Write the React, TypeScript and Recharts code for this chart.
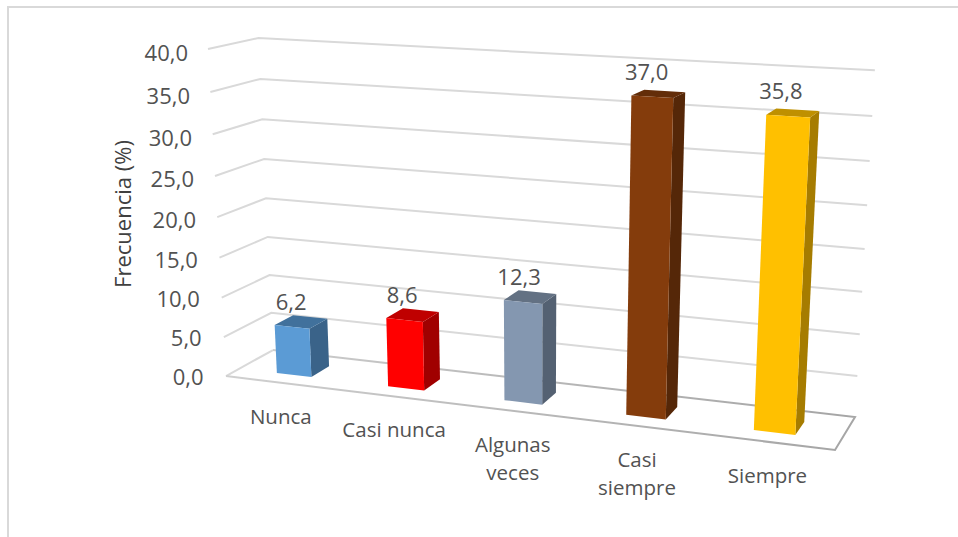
import { BarChart, Bar, XAxis, YAxis, CartesianGrid, LabelList, Label } from "recharts";

const CATEGORIES = ["Nunca", "Casi nunca", "Algunas\nveces", "Casi\nsiempre", "Siempre"];
const VALUES = [6.2, 8.6, 12.3, 37.0, 35.8];
const Y_TICKS = [0, 5, 10, 15, 20, 25, 30, 35, 40];

const FRONT_COLORS = ["#5b9bd5", "#ff0000", "#8497b0", "#843c0c", "#ffc000"];
const SIDE_COLORS = ["#3a6389", "#a00000", "#546172", "#552708", "#a67c00"];
const TOP_COLORS = ["#41719c", "#bf0000", "#637183", "#632d09", "#bf9000"];

const WIDTH = 958;
const HEIGHT = 537;
// the axes need a size of at least 1px or recharts skips them
const AXIS_SIZE = 1;
const PLOT_W = WIDTH - AXIS_SIZE;
const PLOT_H = HEIGHT - AXIS_SIZE;
const TEXT = "#525252";
const FONT = "'Open Sans', sans-serif";

const chartData = CATEGORIES.map((name, i) => ({ name, value: VALUES[i] }));

// homogeneous corners of the 3D box: origin, +category, +value, +depth
const H_O = [226, 376, 1];
const H_U = [743, 400.4, 0.8898];
const H_V = [196.56, 46.3, 0.945];
const H_D = [286.7, 367.57, 1.0502];

// u: along the categories, v: up the value axis, d: into the box (all 0..1)
function project(u: number, v: number, d: number) {
  const h = [0, 1, 2].map(
    (i) => H_O[i] + u * (H_U[i] - H_O[i]) + v * (H_V[i] - H_O[i]) + d * (H_D[i] - H_O[i])
  );
  return { x: h[0] / h[2], y: h[1] / h[2] };
}

const toU = (x: number) => (x - AXIS_SIZE) / PLOT_W;
const toV = (y: number) => (PLOT_H - y) / PLOT_H;
const pts = (list: { x: number; y: number }[]) => list.map((p) => `${p.x},${p.y}`).join(" ");
const decimal = (n: unknown) => Number(n).toFixed(1).replace(".", ",");

const BAR_FRONT = 0.28;
const BAR_BACK = 0.68;

function Bar3D(props: any) {
  const { x, y, width, height, index } = props;
  const u0 = toU(x);
  const u1 = toU(x + width);
  const v0 = toV(y + height);
  const v1 = toV(y);
  const front = [project(u0, v0, BAR_FRONT), project(u1, v0, BAR_FRONT), project(u1, v1, BAR_FRONT), project(u0, v1, BAR_FRONT)];
  const side = [project(u1, v0, BAR_FRONT), project(u1, v0, BAR_BACK), project(u1, v1, BAR_BACK), project(u1, v1, BAR_FRONT)];
  const top = [project(u0, v1, BAR_FRONT), project(u1, v1, BAR_FRONT), project(u1, v1, BAR_BACK), project(u0, v1, BAR_BACK)];
  return (
    <g>
      <polygon points={pts(side)} fill={SIDE_COLORS[index]} />
      <polygon points={pts(top)} fill={TOP_COLORS[index]} />
      <polygon points={pts(front)} fill={FRONT_COLORS[index]} />
    </g>
  );
}

function GridLine3D(props: any) {
  const v = toV(props.y1);
  if (v < 0.001) {
    // floor of the box, its long edges darken towards the right
    return (
      <g>
        <defs>
          <linearGradient id="floorEdge" gradientUnits="userSpaceOnUse" x1={226} y1={0} x2={835} y2={0}>
            <stop offset="0" stopColor="#d0d0d0" />
            <stop offset="0.5" stopColor="#b8b8b8" />
            <stop offset="1" stopColor="#a6a6a6" />
          </linearGradient>
        </defs>
        <line x1={project(0, 0, 0).x} y1={project(0, 0, 0).y} x2={project(0, 0, 1).x} y2={project(0, 0, 1).y} stroke="#d9d9d9" strokeWidth={2} />
        <polyline
          points={pts([project(0, 0, 1), project(1, 0, 1), project(1, 0, 0), project(0, 0, 0)])}
          fill="none"
          stroke="url(#floorEdge)"
          strokeWidth={2}
        />
      </g>
    );
  }
  return <polyline points={pts([project(0, v, 0), project(0, v, 1), project(1, v, 1)])} fill="none" stroke="#d9d9d9" strokeWidth={2} />;
}

function ValueTick(props: any) {
  const v = toV(props.y);
  const p = project(0, v, 0);
  return (
    <text x={p.x - 22.5 + 2.5 * v} y={p.y + 3 * v} textAnchor="end" dominantBaseline="central" fill={TEXT} fontSize={22} fontFamily={FONT}>
      {decimal(props.payload.value)}
    </text>
  );
}

function CategoryTick(props: any) {
  const p = project(toU(props.x), 0, 0);
  const lines = String(props.payload.value).split("\n");
  return (
    <text textAnchor="middle" fill={TEXT} fontSize={20.5} fontFamily={FONT}>
      {lines.map((line, i) => (
        <tspan key={line} x={p.x} y={p.y + 33 + i * 28} dominantBaseline="central">
          {line}
        </tspan>
      ))}
    </text>
  );
}

function ValueLabel(props: any) {
  const { x, y, width, value } = props;
  const u = toU(x + width / 2);
  const p = project(u, toV(y), BAR_FRONT);
  return (
    <text x={p.x - 8 * u} y={p.y - 26} textAnchor="middle" dominantBaseline="central" fill={TEXT} fontSize={22} fontFamily={FONT}>
      {decimal(value)}
    </text>
  );
}

export default function App() {
  return (
    <div style={{ position: "absolute", left: 0, top: 0, width: WIDTH, height: HEIGHT, background: "#fff", overflow: "hidden" }}>
      <div
        style={{
          position: "absolute",
          left: 7,
          top: 6,
          width: WIDTH,
          height: HEIGHT,
          borderLeft: "2.5px solid #d9d9d9",
          borderTop: "2px solid #d9d9d9",
        }}
      />
      <div style={{ position: "absolute", left: 0, top: 0 }}>
        <BarChart
          width={WIDTH}
          height={HEIGHT}
          data={chartData}
          margin={{ top: 0, right: 0, bottom: 0, left: 0 }}
          barSize={PLOT_W * 0.063}
        >
          <CartesianGrid vertical={false} horizontal={GridLine3D as any} />
          <XAxis dataKey="name" height={AXIS_SIZE} axisLine={false} tickLine={false} interval={0} tick={CategoryTick as any} />
          <YAxis width={AXIS_SIZE} domain={[0, 40]} ticks={Y_TICKS} interval={0} axisLine={false} tickLine={false} tick={ValueTick as any}>
            <Label
              content={() => (
                <text
                  x={122}
                  y={214}
                  transform="rotate(-90 122 214)"
                  textAnchor="middle"
                  dominantBaseline="central"
                  fill="#404040"
                  fontSize={22}
                  fontFamily={FONT}
                >
                  Frecuencia (%)
                </text>
              )}
            />
          </YAxis>
          <Bar dataKey="value" shape={Bar3D as any} isAnimationActive={false}>
            <LabelList dataKey="value" content={ValueLabel as any} />
          </Bar>
        </BarChart>
      </div>
    </div>
  );
}
